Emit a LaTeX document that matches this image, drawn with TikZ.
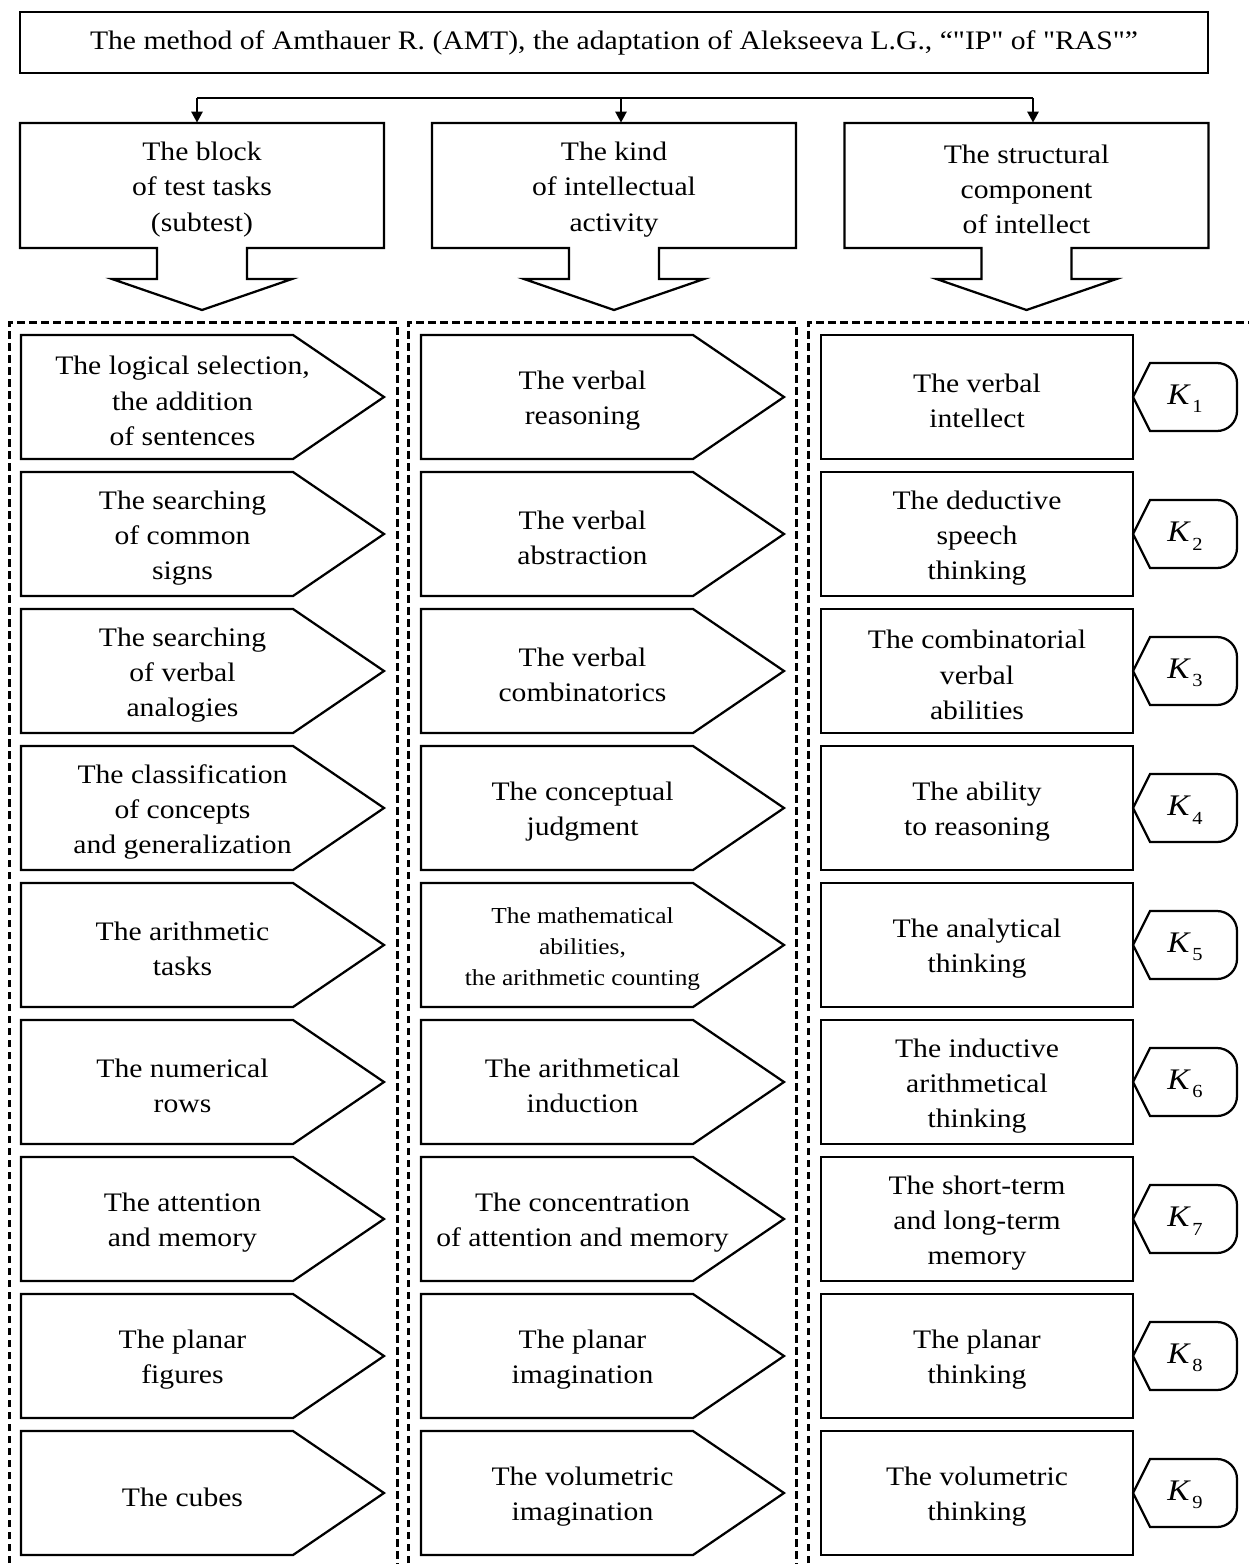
\documentclass[tikz,border=0pt]{standalone}
\usepackage{fontspec}
\setmainfont{Liberation Serif}[FakeStretch=1.11,Ligatures=TeXOff]
\usetikzlibrary{arrows.meta}
\newcommand{\kidx}[1]{\textit{K}\kern0.8pt\raisebox{-4.8pt}{\fontsize{10.5}{10.5}\selectfont #1}}

\begin{document}
\begin{tikzpicture}[
  x=0.2mm, y=-0.2mm,
  outl/.style={line width=0.45mm},
  txt/.style={align=center, inner sep=0pt, font=\fontsize{15.2}{20}\selectfont},
  title/.style={txt, draw, outl, minimum width=237.6mm, minimum height=12.2mm},
  head/.style={txt, minimum width=72.8mm, minimum height=26.6mm,
    append after command={\pgfextra{\draw[outl] (\tikzlastnode.center)
      ++(-182,-66.5) -- ++(364,0) -- ++(0,125) -- ++(-137,0) -- ++(0,31)
      -- ++(45,0) -- ++(-90,31) -- ++(-90,-31) -- ++(45,0) -- ++(0,-31)
      -- ++(-137,0) -- cycle;}}},
  task/.style={txt,
    append after command={\pgfextra{\draw[outl] (\tikzlastnode.center)
      ++(-161.5,-66) -- ++(272,0) -- ++(91,62) -- ++(-91,62)
      -- ++(-272,0) -- cycle;}}},
  comp/.style={txt,
    append after command={\pgfextra{\draw[outl] (\tikzlastnode.center)
      ++(-156,-66) rectangle ++(312,124);}}},
  kval/.style={inner sep=0pt, font=\fontsize{17}{17}\selectfont,
    append after command={\pgfextra{\draw[outl] (\tikzlastnode.center)
      ++(-52,-2) -- ++(17,-34) -- ++(67,0)
      arc[start angle=90, end angle=0, radius=4mm] -- ++(0,28)
      arc[start angle=0, end angle=-90, radius=4mm] -- ++(-67,0) -- cycle;}}},
  zone/.style={line width=0.6mm, dash pattern=on 1.5mm off 0.9mm},
  arrow/.style={-{Triangle[length=2.2mm,width=2.2mm]}, line width=0.5mm}
]
  \useasboundingbox (0,0) rectangle (1249,1564);

  % Title and the three headers
  \node[title] (amt) at (614,42.5)
    {The method of Amthauer R. (AMT), the adaptation of Alekseeva L.G., “"IP" of "RAS"”};
  \node[head] (block) at (202,189.5)  {The block\\of test tasks\\(subtest)};
  \node[head] (kind)  at (614,189.5)  {The kind\\of intellectual\\activity};
  \node[head] (struc) at (1026.5,189.5) {The structural\\component\\of intellect};

  \coordinate (busL) at (197,98);
  \coordinate (busM) at (621,98);
  \coordinate (busR) at (1033,98);
  \draw[outl] (busL) -- (busR);
  \draw[arrow] (busL) -- (busL |- block.north);
  \draw[arrow] (busM) -- (busM |- kind.north);
  \draw[arrow] (busR) -- (busR |- struc.north);

  % Dashed frames (open at the bottom)
  \draw[zone] (9,1575) -- (9,323) -- (397,323) -- (397,1575);
  \draw[zone] (408,1575) -- (408,323) -- (796,323) -- (796,1575);
  \draw[zone] (808,1575) -- (808,323) -- (1260,323);

  % Column 1: subtests
  \node[task] (logic)   at (182.5,401)  {The logical selection,\\the addition\\of sentences};
  \node[task] (signs)   at (182.5,538)  {The searching\\of common\\signs};
  \node[task] (analog)  at (182.5,675)  {The searching\\of verbal\\analogies};
  \node[task] (classif) at (182.5,812)  {The classification\\of concepts\\and generalization};
  \node[task] (arith)   at (182.5,949)  {The arithmetic\\tasks};
  \node[task] (numrows) at (182.5,1086) {The numerical\\rows};
  \node[task] (attent)  at (182.5,1223) {The attention\\and memory};
  \node[task] (planar)  at (182.5,1360) {The planar\\figures};
  \node[task] (cubes)   at (182.5,1497) {The cubes};

  % Column 2: kind of activity
  \node[task] (vreason) at (582.5,401)  {The verbal\\reasoning};
  \node[task] (vabstr)  at (582.5,538)  {The verbal\\abstraction};
  \node[task] (vcomb)   at (582.5,675)  {The verbal\\combinatorics};
  \node[task] (judgm)   at (582.5,812)  {The conceptual\\judgment};
  \node[task, font=\fontsize{13}{17.6}\selectfont] (mathab) at (582.5,949)
    {The mathematical\\abilities,\\the arithmetic counting};
  \node[task] (induct)  at (582.5,1086) {The arithmetical\\induction};
  \node[task] (concent) at (582.5,1223) {The concentration\\of attention and memory};
  \node[task] (plimag)  at (582.5,1360) {The planar\\imagination};
  \node[task] (volimag) at (582.5,1497) {The volumetric\\imagination};

  % Column 3: structural components
  \node[comp] (vintel)  at (977,401)  {The verbal\\intellect};
  \node[comp] (deduct)  at (977,538)  {The deductive\\speech\\thinking};
  \node[comp] (combab)  at (977,675)  {The combinatorial\\verbal\\abilities};
  \node[comp] (reason)  at (977,812)  {The ability\\to reasoning};
  \node[comp] (analyt)  at (977,949)  {The analytical\\thinking};
  \node[comp] (inducth) at (977,1086) {The inductive\\arithmetical\\thinking};
  \node[comp] (memory)  at (977,1223) {The short-term\\and long-term\\memory};
  \node[comp] (planth)  at (977,1360) {The planar\\thinking};
  \node[comp] (volth)   at (977,1497) {The volumetric\\thinking};

  % Coefficients
  \node[kval] (k1) at (1185,399)  {\kidx{1}};
  \node[kval] (k2) at (1185,536)  {\kidx{2}};
  \node[kval] (k3) at (1185,673)  {\kidx{3}};
  \node[kval] (k4) at (1185,810)  {\kidx{4}};
  \node[kval] (k5) at (1185,947)  {\kidx{5}};
  \node[kval] (k6) at (1185,1084) {\kidx{6}};
  \node[kval] (k7) at (1185,1221) {\kidx{7}};
  \node[kval] (k8) at (1185,1358) {\kidx{8}};
  \node[kval] (k9) at (1185,1495) {\kidx{9}};
\end{tikzpicture}
\end{document}
